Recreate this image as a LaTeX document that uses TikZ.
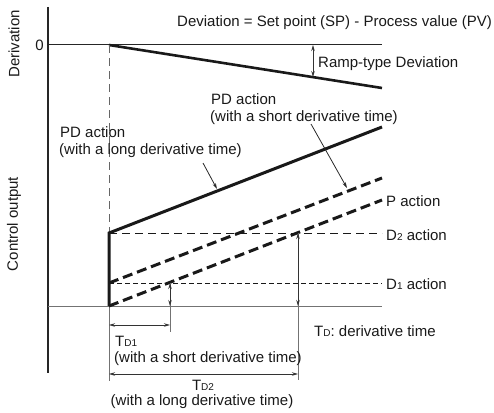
\documentclass[tikz,border=0pt]{standalone}
\usepackage{fontspec}
\setmainfont{Liberation Sans}
\usetikzlibrary{arrows.meta}
\newcommand{\smallsub}[1]{{\fontsize{10}{10}\selectfont #1}}
\begin{document}
\begin{tikzpicture}[x=1pt,y=-1pt,
  lbl/.style={font=\fontsize{15}{15}\selectfont, inner sep=0pt, anchor=base west, text=black!90},
  ctr/.style={font=\fontsize{15}{15}\selectfont, inner sep=0pt, anchor=base, text=black!90},
  axisline/.style={line width=1.3pt, black!85},
  grayline/.style={line width=0.9pt, black!55},
  thickline/.style={line width=3pt, black!90},
  rampline/.style={line width=2.6pt, black!90},
  thickdash/.style={line width=3pt, black!90, dash pattern=on 10pt off 5pt},
  meddash/.style={line width=1pt, black!90, dash pattern=on 8pt off 5pt},
  finedash/.style={line width=1pt, black!90, dash pattern=on 5pt off 3pt},
  guidedash/.style={line width=0.9pt, black!60, dash pattern=on 8pt off 5pt},
  dimarrow/.style={line width=0.8pt, black!80, {Stealth[length=6pt,width=3.5pt]}-{Stealth[length=6pt,width=3.5pt]}},
  ptr/.style={line width=0.8pt, black!85, -{Stealth[length=6pt,width=3.5pt]}}
]
\useasboundingbox (0,0) rectangle (494,412);
% coordinates
\coordinate (axtop) at (48,7);
\coordinate (axbot) at (48,373);
\coordinate (zl) at (48,45);
\coordinate (zr) at (382,45);
\coordinate (s0) at (109,45);
\coordinate (rampend) at (382,88);
\coordinate (bl) at (48,306);
\coordinate (br) at (382,306);
\coordinate (o) at (109,306);
\coordinate (ob) at (109,381);
\coordinate (pd) at (109,233);
\coordinate (pdend) at (382,127);
\coordinate (d2end) at (382,233);
\coordinate (d1) at (109,283);
\coordinate (d1end) at (382,283);
\coordinate (shortend) at (382,178);
\coordinate (pend) at (382,200);
\coordinate (t1top) at (170,283);
\coordinate (t1base) at (170,306);
\coordinate (t1bot) at (170,332);
\coordinate (t2top) at (298,233);
\coordinate (t2base) at (298,306);
\coordinate (t2bot) at (298,380);
\coordinate (h1l) at (109,325);
\coordinate (h1r) at (170,325);
\coordinate (h2l) at (109,374);
\coordinate (h2r) at (298,374);
\coordinate (ra) at (313,45);
\coordinate (rb) at (313,77);
\coordinate (p1a) at (203,163);
\coordinate (p1b) at (217,189);
\coordinate (p2a) at (311,124);
\coordinate (p2b) at (347,188);

% axes
\draw[axisline] (axtop) -- (axbot);
\draw[axisline, line width=1pt] (zl) -- (zr);
\draw[grayline] (bl) -- (br);
% ramp deviation
\draw[rampline] (s0) -- (rampend);
\draw[dimarrow] (ra) -- (rb);
% guide
\draw[guidedash] (s0) -- (pd);
\draw[grayline] (o) -- (ob);
% outputs
\draw[thickline] (o) -- (pd) -- (pdend);
\draw[meddash] (pd) -- (d2end);
\draw[finedash] (d1) -- (d1end);
\draw[thickdash] (d1) -- (shortend);
\draw[thickdash] (o) -- (pend);
% derivative time markers
\draw[grayline] (t1top) -- (t1bot);
\draw[grayline] (t2top) -- (t2bot);
\draw[dimarrow] (t1top) -- (t1base);
\draw[dimarrow] (t2top) -- (t2base);
\draw[dimarrow] (h1l) -- (h1r);
\draw[dimarrow] (h2l) -- (h2r);
% pointers
\draw[ptr] (p1a) -- (p1b);
\draw[ptr] (p2a) -- (p2b);

% texts
\node[lbl] (title) at (177,27) {Deviation = Set point (SP) - Process value (PV)};
\node[lbl, anchor=base east] (zero) at (44,51) {0};
\node[lbl, rotate=90, anchor=center] (yl1) at (14,44) {Derivation};
\node[lbl, rotate=90, anchor=center] (yl2) at (14,224) {Control output};
\node[lbl] (ramp) at (318,67) {Ramp-type Deviation};
\node[lbl] (pds1) at (211,104) {PD action};
\node[lbl] (pds2) at (210,121) {(with a short derivative time)};
\node[lbl] (pdl1) at (60,137) {PD action};
\node[lbl] (pdl2) at (59,154) {(with a long derivative time)};
\node[lbl] (pact) at (386,206) {P action};
\node[lbl] (d2act) at (386,240) {D\smallsub{2} action};
\node[lbl] (d1act) at (386,289) {D\smallsub{1} action};
\node[lbl] (tdd) at (314,336) {T\smallsub{D}: derivative time};
\node[lbl] (td1) at (115,346) {T\smallsub{D1}};
\node[lbl] (td1b) at (114,362) {(with a short derivative time)};
\node[ctr] (td2) at (203,390) {T\smallsub{D2}};
\node[ctr] (td2b) at (202,405) {(with a long derivative time)};
\end{tikzpicture}
\end{document}
